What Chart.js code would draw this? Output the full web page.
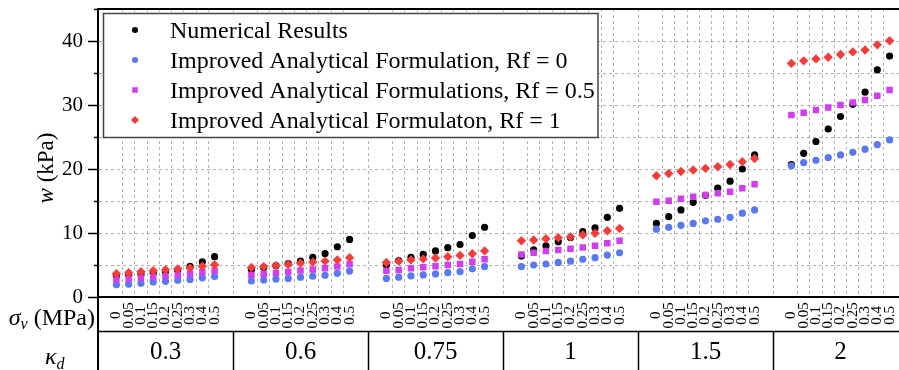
<!DOCTYPE html>
<html>
<head>
<meta charset="utf-8">
<script src="https://cdn.jsdelivr.net/npm/chart.js@4"></script>
<style>
  html, body { margin: 0; padding: 0; background: #fff; overflow: hidden; }
  canvas { display: block; }
</style>
</head>
<body>
<canvas id="chart" width="910" height="370"></canvas>
<script>
const kappaD = ['0.3', '0.6', '0.75', '1', '1.5', '2'];
const sigmaV = ['0', '0.05', '0.1', '0.15', '0.2', '0.25', '0.3', '0.4', '0.5'];

// one row per kappa_d group, one value per sigma_v
const numerical = [
  [3.3, 3.4, 3.55, 3.7, 3.9, 4.2, 4.8, 5.5, 6.3],
  [4.3, 4.6, 4.9, 5.2, 5.6, 6.2, 6.8, 7.85, 9.0],
  [5.0, 5.7, 6.2, 6.65, 7.2, 7.7, 8.2, 9.6, 10.9],
  [6.4, 7.35, 8.0, 8.65, 9.3, 10.2, 10.8, 12.45, 13.85],
  [11.5, 12.55, 13.6, 14.8, 15.9, 17.0, 18.1, 20.0, 22.2],
  [20.7, 22.45, 24.3, 26.25, 28.2, 30.1, 32.0, 35.5, 37.65]
];
const analyticRf0 = [
  [1.9, 2.0, 2.15, 2.35, 2.45, 2.6, 2.75, 3.0, 3.2],
  [2.5, 2.65, 2.8, 2.9, 3.1, 3.25, 3.4, 3.7, 4.05],
  [2.9, 3.1, 3.3, 3.45, 3.6, 3.8, 3.95, 4.4, 4.75],
  [4.75, 5.0, 5.15, 5.4, 5.6, 5.9, 6.15, 6.55, 6.9],
  [10.6, 10.9, 11.2, 11.5, 11.9, 12.15, 12.45, 13.1, 13.6],
  [20.5, 21.0, 21.35, 21.8, 22.2, 22.6, 23.1, 23.8, 24.55]
];
const analyticRf05 = [
  [2.75, 2.85, 3.0, 3.15, 3.3, 3.45, 3.65, 3.85, 4.1],
  [3.45, 3.6, 3.75, 3.95, 4.15, 4.3, 4.5, 4.75, 5.1],
  [4.1, 4.2, 4.5, 4.65, 4.8, 5.0, 5.15, 5.5, 5.9],
  [6.65, 6.9, 7.2, 7.35, 7.55, 7.75, 8.0, 8.4, 8.8],
  [14.9, 15.05, 15.35, 15.65, 15.95, 16.2, 16.45, 17.0, 17.6],
  [28.45, 28.8, 29.2, 29.6, 30.0, 30.4, 30.8, 31.45, 32.35]
];
const analyticRf1 = [
  [3.65, 3.8, 3.95, 4.1, 4.25, 4.4, 4.55, 4.8, 5.05],
  [4.6, 4.75, 4.9, 5.1, 5.3, 5.45, 5.6, 5.8, 6.15],
  [5.4, 5.6, 5.8, 5.95, 6.1, 6.3, 6.5, 6.75, 7.2],
  [8.8, 8.9, 9.1, 9.25, 9.4, 9.7, 9.95, 10.35, 10.7],
  [18.95, 19.3, 19.6, 19.85, 20.1, 20.35, 20.7, 21.15, 21.65],
  [36.5, 36.9, 37.2, 37.45, 37.9, 38.3, 38.6, 39.4, 40.05]
];

const SERIF = '"Liberation Serif", "Times New Roman", serif';
const SLOTS = sigmaV.length + 2; // empty slot each side of a group

const labels = [];
kappaD.forEach(() => labels.push('', ...sigmaV, ''));
const spread = groups => groups.flatMap(g => [null, ...g, null]);

const series = [
  { label: 'Numerical Results', data: numerical, color: '#000000', style: 'circle', r: 3.6, order: 3 },
  { label: 'Improved Analytical Formulation, Rf = 0', data: analyticRf0, color: '#5a78f2', style: 'circle', r: 3.6, order: 2 },
  { label: 'Improved Analytical Formulations, Rf = 0.5', data: analyticRf05, color: '#d13ef0', style: 'rect', r: 4.6, order: 1 },
  { label: 'Improved Analytical Formulaton, Rf = 1', data: analyticRf1, color: '#f63b3b', style: 'rectRot', r: 4.7, order: 0 }
];

function marker(ctx, style, x, y, r) {
  ctx.beginPath();
  if (style === 'circle') {
    ctx.arc(x, y, r, 0, Math.PI * 2);
  } else if (style === 'rect') {
    const s = r * Math.SQRT1_2;
    ctx.rect(x - s, y - s, 2 * s, 2 * s);
  } else {
    ctx.moveTo(x, y - r); ctx.lineTo(x + r, y); ctx.lineTo(x, y + r); ctx.lineTo(x - r, y);
    ctx.closePath();
  }
  ctx.fill();
}

function line(ctx, x1, y1, x2, y2) {
  ctx.beginPath(); ctx.moveTo(x1, y1); ctx.lineTo(x2, y2); ctx.stroke();
}

// mixed italic / upright text pieces, drawn left to right
function pieces(ctx, parts, x, y) {
  parts.forEach(p => {
    ctx.font = p.font;
    ctx.fillText(p.text, x, y + (p.dy || 0));
    x += ctx.measureText(p.text).width;
  });
}
function piecesWidth(ctx, parts) {
  return parts.reduce((w, p) => { ctx.font = p.font; return w + ctx.measureText(p.text).width; }, 0);
}

const decorations = {
  id: 'decorations',
  afterDraw(chart) {
    const { ctx, chartArea: a, scales: { x, y } } = chart;
    const W = chart.width, H = chart.height;
    const rowY = 331.5;
    ctx.save();
    ctx.strokeStyle = '#000';
    ctx.fillStyle = '#000';

    // y tick marks, long at labelled values
    ctx.lineWidth = 1.5;
    for (let v = 0; v <= 45; v += 5) {
      const py = Math.round(y.getPixelForValue(v)) + 0.5;
      line(ctx, a.left - (v % 10 === 0 ? 10 : 4), py, a.left, py);
    }

    // frame: top edge and left axis carried down through the table
    ctx.lineWidth = 2;
    line(ctx, a.left, a.top, W, a.top);
    line(ctx, a.left, a.top, a.left, H);

    // table below the x axis
    ctx.lineWidth = 1.5;
    line(ctx, a.left, rowY, W, rowY);
    for (let g = 1; g < kappaD.length; g++) {
      const sx = Math.round((x.getPixelForValue(g * SLOTS - 1) + x.getPixelForValue(g * SLOTS)) / 2) + 0.5;
      line(ctx, sx, rowY, sx, H);
    }

    ctx.font = '15px ' + SERIF;
    ctx.textAlign = 'center';
    ctx.textBaseline = 'middle';
    kappaD.forEach((k, g) => {
      sigmaV.forEach((s, i) => {
        const px = x.getPixelForValue(g * SLOTS + i + 1);
        ctx.save();
        ctx.translate(px, (a.bottom + rowY) / 2 + 1);
        ctx.rotate(-Math.PI / 2);
        ctx.fillText(s, 0, 0);
        ctx.restore();
      });
    });

    ctx.font = '25px ' + SERIF;
    ctx.textBaseline = 'alphabetic';
    kappaD.forEach((k, g) => {
      const cx = (x.getPixelForValue(g * SLOTS) + x.getPixelForValue(g * SLOTS + SLOTS - 1)) / 2;
      ctx.fillText(k, cx, 359);
    });

    // row titles
    ctx.textAlign = 'left';
    const sig = [
      { text: 'σ', font: 'italic 24px ' + SERIF },
      { text: 'v', font: 'italic 16px ' + SERIF, dy: 4 },
      { text: ' (MPa)', font: '24px ' + SERIF }
    ];
    pieces(ctx, sig, 95 - piecesWidth(ctx, sig), 325);
    pieces(ctx, [
      { text: 'κ', font: 'italic 24px ' + SERIF },
      { text: 'd', font: 'italic 16px ' + SERIF, dy: 5 }
    ], 45, 364);

    // y title
    const yt = [
      { text: 'w', font: 'italic 23px ' + SERIF },
      { text: ' (kPa)', font: '23px ' + SERIF }
    ];
    ctx.save();
    ctx.translate(53, 168);
    ctx.rotate(-Math.PI / 2);
    pieces(ctx, yt, -piecesWidth(ctx, yt) / 2, 0);
    ctx.restore();

    // legend box
    ctx.fillStyle = '#fff';
    ctx.fillRect(103.5, 13.5, 494.5, 124);
    ctx.strokeStyle = '#444';
    ctx.lineWidth = 1.5;
    ctx.strokeRect(103.5, 13.5, 494.5, 124);
    ctx.font = '24px ' + SERIF;
    series.forEach((s, i) => {
      ctx.fillStyle = s.color;
      marker(ctx, s.style, 135, 30 + i * 30, s.r * 0.85);
      ctx.fillStyle = '#000';
      ctx.fillText(s.label, 170, 37.7 + i * 30);
    });
    ctx.restore();
  }
};

new Chart(document.getElementById('chart'), {
  type: 'line',
  data: {
    labels: labels,
    datasets: series.map(s => ({
      label: s.label,
      data: spread(s.data),
      showLine: false,
      order: s.order,
      pointStyle: s.style,
      pointRadius: s.r,
      pointBorderWidth: 0,
      backgroundColor: s.color,
      borderColor: s.color
    }))
  },
  options: {
    responsive: false,
    animation: false,
    devicePixelRatio: 1,
    layout: { padding: { left: 0, top: 9, right: 2, bottom: 0 }, autoPadding: false },
    plugins: { legend: { display: false }, tooltip: { enabled: false } },
    scales: {
      x: {
        type: 'category',
        offset: true,
        ticks: { display: false, autoSkip: false },
        grid: {
          offset: true,
          drawTicks: false,
          lineWidth: 1,
          color: ctx => {
            const k = ctx.index % SLOTS;
            return (k === 1 || k === SLOTS - 1) ? 'rgba(0,0,0,0)' : 'rgba(0,0,0,0.3)';
          }
        },
        border: { display: true, color: '#000', width: 2, dash: [3, 3] },
        afterFit: scale => { scale.height = 73; }
      },
      y: {
        min: 0,
        max: 45,
        ticks: {
          stepSize: 5,
          padding: 15,
          color: '#000',
          font: { family: SERIF, size: 21, lineHeight: 0.8 },
          callback: v => (v % 10 === 0 ? v : '')
        },
        grid: { drawTicks: false, lineWidth: 1, color: 'rgba(0,0,0,0.3)' },
        border: { display: true, color: '#000', width: 2, dash: [3, 3] },
        afterFit: scale => {
          scale.width = 98;
          // tick padding must not push the plot top down
          scale.paddingTop = 0;
          scale.paddingBottom = 0;
        }
      }
    }
  },
  plugins: [decorations]
});
</script>
</body>
</html>
